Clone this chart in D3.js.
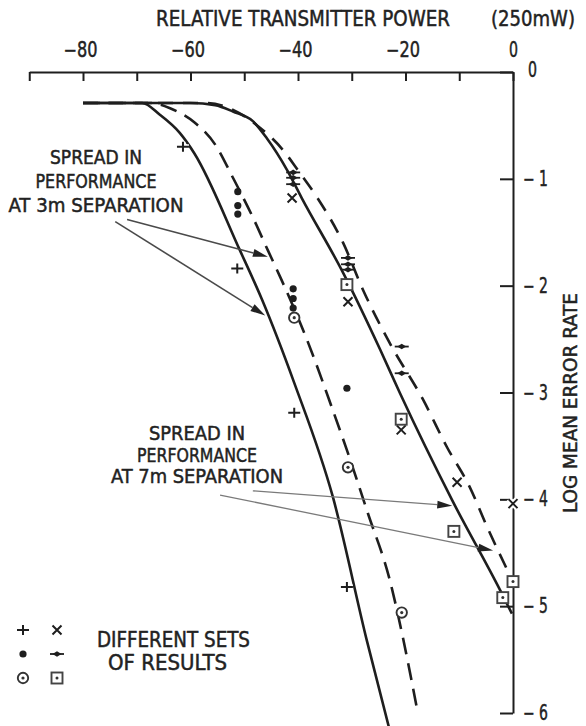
<!DOCTYPE html>
<html><head><meta charset="utf-8">
<script src="https://cdn.jsdelivr.net/npm/d3@7"></script>
<style>
body{margin:0;background:#fff}
svg{display:block}
text{font-family:"DejaVu Sans Condensed","DejaVu Sans",sans-serif;fill:#222;stroke:#222;stroke-width:0.45px}
</style>
</head><body>
<svg id="c" width="586" height="726"></svg>
<script>
// ---------- data ----------
const xTickValues = [-90,-80,-70,-60,-50,-40,-30,-20,-10,0];
const xLabelValues = [-80,-60,-40,-20,0];
const yTickValues = [0,-1,-2,-3,-4,-5,-6];

const curve3mSolid = [[-80,-0.29],[-69,-0.29],[-65.7,-0.40],[-62.0,-0.57],[-59.3,-0.76],[-50.8,-1.67],[-46.7,-2.13],[-40.7,-2.91],[-33.5,-3.98],[-27.2,-5.32],[-23.0,-6.15]];
const curve3mDashed = [[-80,-0.29],[-67.5,-0.29],[-63.8,-0.34],[-59.3,-0.47],[-55.4,-0.68],[-52.1,-0.99],[-48.4,-1.36],[-45.6,-1.67],[-43.3,-1.92],[-38.3,-2.51],[-33.7,-3.14],[-30.9,-3.54],[-27.0,-4.13],[-22.9,-4.76],[-20.5,-5.29],[-17.9,-5.95]];
const curve7mSolid = [[-80,-0.29],[-60,-0.29],[-55.4,-0.31],[-52.1,-0.37],[-48.4,-0.46],[-45.8,-0.62],[-42.0,-0.92],[-39.3,-1.18],[-31.6,-1.88],[-24.7,-2.60],[-21.0,-3.01],[-11.3,-4.01],[-2.4,-4.85],[-0.2,-5.07]];
const curve7mDashed = [[-80,-0.29],[-57,-0.29],[-52.7,-0.34],[-47.6,-0.50],[-42.8,-0.73],[-40.0,-0.92],[-36.5,-1.17],[-31.6,-1.60],[-27.9,-2.04],[-22.9,-2.54],[-16.7,-3.07],[-12.3,-3.51],[-8.0,-3.89],[-4.8,-4.26],[0,-4.77]];

const plusPts = [[-61.4,-0.70],[-51.3,-1.84],[-40.7,-3.19],[-30.9,-4.82]];
const crossPts = [[-41.1,-1.18],[-30.7,-2.15],[-20.8,-3.35],[-10.4,-3.84],[0,-4.04]];
const dotPts = [[-51.2,-1.12],[-51.2,-1.25],[-51.2,-1.33],[-40.9,-2.03],[-40.9,-2.12],[-40.9,-2.21],[-30.9,-2.96]];
const diamondPts = [[-40.9,-0.94],[-40.9,-0.99],[-40.9,-1.05],[-30.7,-1.74],[-30.7,-1.80],[-30.7,-1.85],[-20.7,-2.57],[-20.7,-2.82]];
const circlePts = [[-40.7,-2.30],[-30.7,-3.70],[-20.7,-5.06]];
const squarePts = [[-30.9,-1.99],[-20.8,-3.25],[-11.0,-4.30],[-1.9,-4.92],[0,-4.77]];

const arrows3m = [[[-71.8,-1.38],[-45.6,-1.73]],[[-74.0,-1.40],[-46.1,-2.28]]];
const arrows7m = [[[-48.4,-3.92],[-11.3,-4.06]],[[-54.5,-3.96],[-3.7,-4.48]]];

const titleX = "RELATIVE TRANSMITTER POWER";
const titleUnit = "(250mW)";
const titleY = "LOG MEAN ERROR RATE";
const note3m = ["SPREAD IN","PERFORMANCE","AT 3m SEPARATION"];
const note7m = ["SPREAD IN","PERFORMANCE","AT 7m SEPARATION"];
const legendSyms = ["plus","cross","dot","diamond","circle","square"];
const legendText = ["DIFFERENT SETS","OF RESULTS"];

// ---------- drawing ----------
const INK = "#1e1e1e";
const svg = d3.select("#c");
const x = d3.scaleLinear().domain([-90,0]).range([29.25,513]);
const y = d3.scaleLinear().domain([0,-6]).range([72,713]);

function txt(g, s, x0, yb, w, size, anchor) {
  let xs = x0;
  if (anchor === "middle") xs = x0 - w/2;
  return g.append("text").attr("x", xs).attr("y", yb).attr("font-size", size)
    .attr("textLength", w).attr("lengthAdjust","spacingAndGlyphs").text(s);
}

// top axis
const fmt = d3.format("d");
const gx = svg.append("g").attr("transform", `translate(0,${y(0)})`)
  .call(d3.axisTop(x).tickValues(xTickValues).tickSize(-9).tickSizeOuter(0).tickPadding(15)
    .tickFormat(d => xLabelValues.includes(d) ? fmt(d) : ""));
gx.selectAll("path,line").attr("stroke", INK).attr("stroke-width", 2);
gx.selectAll("text").attr("font-size", 20.5).attr("fill", INK)
  .attr("font-family", '"DejaVu Sans Condensed","DejaVu Sans",sans-serif')
  .each(function(d){
    const s = d3.select(this);
    if (s.text() === "") return;
    const w = d === 0 ? 9 : 34;
    s.attr("text-anchor","start").attr("x", d === 0 ? -4.5 : -w/2 - 3)
     .attr("textLength", w).attr("lengthAdjust","spacingAndGlyphs");
  });

// right axis
const gy = svg.append("g").attr("transform", `translate(${x(0)},0)`)
  .call(d3.axisRight(y).tickValues(yTickValues).tickSize(-13).tickSizeOuter(0).tickPadding(10)
    .tickFormat(d => d === 0 ? "0" : "\u2212 " + Math.abs(d)));
gy.selectAll("path,line").attr("stroke", INK).attr("stroke-width", 2);
gy.selectAll("text").attr("font-size", 20.5).attr("fill", INK)
  .attr("font-family", '"DejaVu Sans Condensed","DejaVu Sans",sans-serif')
  .each(function(d){
    const s = d3.select(this);
    if (d === 0) s.attr("x", 15).attr("dy","0.2em").attr("textLength", 9).attr("lengthAdjust","spacingAndGlyphs");
    else s.attr("textLength", 25).attr("lengthAdjust","spacingAndGlyphs");
  });

// titles
txt(svg, titleX, 156, 26, 294, 21);
txt(svg, titleUnit, 491, 26, 84, 21);
const ty = svg.append("g").attr("transform", `translate(577,403) rotate(-90)`);
txt(ty, titleY, 0, 0, 220, 19, "middle");

// curves
const line = d3.line().x(d => x(d[0])).y(d => y(d[1])).curve(d3.curveMonotoneX);
const curves = [
  {d: curve3mSolid, dash: null},
  {d: curve3mDashed, dash: "17,9"},
  {d: curve7mSolid, dash: null},
  {d: curve7mDashed, dash: "15,10"}
];
svg.append("g").selectAll("path").data(curves).join("path")
  .attr("d", c => line(c.d)).attr("fill","none").attr("stroke", INK)
  .attr("stroke-width", 2.6).attr("stroke-dasharray", c => c.dash);

// arrows
function arrow(g, a, color, width) {
  const x0 = x(a[0][0]), y0 = y(a[0][1]), x1 = x(a[1][0]), y1 = y(a[1][1]);
  const ang = Math.atan2(y1-y0, x1-x0);
  const L = 15, W = 4;
  const bx = x1 - L*Math.cos(ang), by = y1 - L*Math.sin(ang);
  g.append("line").attr("x1",x0).attr("y1",y0).attr("x2",bx).attr("y2",by)
    .attr("stroke",color).attr("stroke-width",width);
  const px = -Math.sin(ang)*W, py = Math.cos(ang)*W;
  g.append("path").attr("d", `M${x1},${y1}L${bx+px},${by+py}L${bx-px},${by-py}Z`).attr("fill", "#222");
}
const ga = svg.append("g");
arrows3m.forEach(a => arrow(ga, a, "#4a4a4a", 1.6));
arrows7m.forEach(a => arrow(ga, a, "#7a7a7a", 1.3));

// annotation texts
const gn = svg.append("g");
const w3 = [92,121,175], w7 = [96,120,172];
note3m.forEach((s,i) => txt(gn, s, 96, 164 + i*24, w3[i], 19, "middle"));
note7m.forEach((s,i) => txt(gn, s, 197, 440 + i*21.5, w7[i], 19, "middle"));

// symbols
function sym(g, type, halo) {
  if (type === "plus") {
    if (halo) g.append("path").attr("d","M-6,0H6M0,-5V5").attr("stroke","#fff").attr("stroke-width",5);
    g.append("path").attr("d","M-6,0H6M0,-5V5").attr("stroke",INK).attr("stroke-width",2);
  } else if (type === "cross") {
    if (halo) g.append("path").attr("d","M-4.5,-4.5L4.5,4.5M-4.5,4.5L4.5,-4.5").attr("stroke","#fff").attr("stroke-width",6);
    g.append("path").attr("d","M-4.5,-4.5L4.5,4.5M-4.5,4.5L4.5,-4.5").attr("stroke",INK).attr("stroke-width",2);
  } else if (type === "dot") {
    g.append("circle").attr("r",3.6).attr("fill",INK);
  } else if (type === "diamond") {
    g.append("path").attr("d","M-7,0H7").attr("stroke",INK).attr("stroke-width",1.8);
    g.append("path").attr("d","M-4.5,0L0,-2.8L4.5,0L0,2.8Z").attr("fill",INK);
  } else if (type === "circle") {
    g.append("circle").attr("r",5.2).attr("fill","#fff").attr("stroke","#333").attr("stroke-width",1.9);
    g.append("circle").attr("r",1.6).attr("fill","#333");
  } else if (type === "square") {
    g.append("rect").attr("x",-5.5).attr("y",-5.5).attr("width",11).attr("height",11)
      .attr("fill","#fff").attr("stroke","#444").attr("stroke-width",1.9);
    g.append("circle").attr("r",1.5).attr("fill","#333");
  }
}
const sets = [
  {pts: plusPts, type: "plus"}, {pts: crossPts, type: "cross"},
  {pts: dotPts, type: "dot"}, {pts: diamondPts, type: "diamond"},
  {pts: circlePts, type: "circle"}, {pts: squarePts, type: "square"}
];
const gm = svg.append("g");
sets.forEach(s => {
  s.pts.forEach(p => {
    const g = gm.append("g").attr("transform", `translate(${x(p[0])},${y(p[1])})`);
    sym(g, s.type, true);
  });
});

// legend
const gl = svg.append("g");
legendSyms.forEach((t,i) => {
  const col = i % 2, row = Math.floor(i/2);
  const g = gl.append("g").attr("transform", `translate(${23 + col*34},${630 + row*24})`);
  sym(g, t, false);
});
txt(gl, legendText[0], 97, 647, 153, 20.5);
txt(gl, legendText[1], 108, 670, 119, 20.5);
</script>
</body></html>
